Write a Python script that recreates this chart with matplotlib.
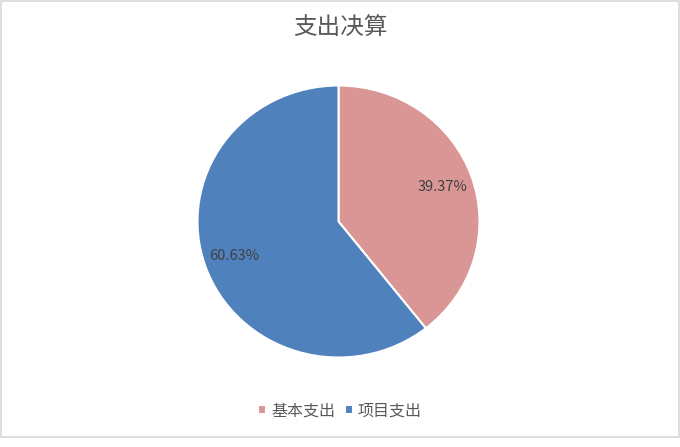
import matplotlib.pyplot as plt
from matplotlib.patches import Rectangle

plt.rcParams['font.family'] = ['Noto Sans CJK SC', 'DejaVu Sans']

title = '支出决算'
labels = ['基本支出', '项目支出']
values = [39.37, 60.63]
colors = ['#da9694', '#4f81bd']

W, H = 680, 447
fig = plt.figure(figsize=(W / 100, H / 100), dpi=100)

# chart border
fig.patches.append(Rectangle((0.5 / W, 1 - 437 / H), (W - 1.5) / W, 436 / H,
                             transform=fig.transFigure, fill=False,
                             edgecolor='#d9d9d9', linewidth=1.2))

# pie is slightly stretched in the original: center ~ (338.5, 221.5), rx 141, ry 136
cx, cy = 338.5, 221.5
rx, ry = 141, 136
ax = fig.add_axes([(cx - rx) / W, 1 - (cy + ry) / H, 2 * rx / W, 2 * ry / H])
wedges, texts, autotexts = ax.pie(values, colors=colors, startangle=90, counterclock=False,
                                  autopct='%.2f%%', pctdistance=0.78,
                                  wedgeprops=dict(edgecolor='white', linewidth=1.5),
                                  textprops=dict(color='#404040', fontsize=10.5))
ax.set_aspect('auto')
ax.set_xlim(-1, 1)
ax.set_ylim(-1, 1)

fig.text(340 / W, 1 - 28 / H, title, ha='center', va='center', fontsize=17, color='#595959')

fig.legend(wedges, labels, loc='center', bbox_to_anchor=(340 / W, 1 - 411 / H),
           ncol=2, frameon=False, fontsize=11.5, handlelength=0.5, handleheight=0.5,
           handletextpad=0.3, columnspacing=0.6, labelcolor='#595959')

fig.savefig('out.png', dpi=100)
